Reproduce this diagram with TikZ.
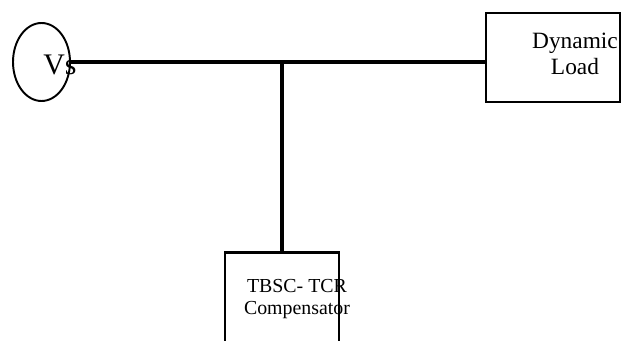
\documentclass[tikz,border=0pt]{standalone}
\usepackage{fontspec}
\setmainfont{Liberation Serif}
\usetikzlibrary{shapes.geometric}

\begin{document}
\begin{tikzpicture}[
      x=0.02cm, y=-0.02cm,
      src/.style={
        ellipse,
        draw,
        line width=1.1pt,
        minimum width=1.14cm,
        minimum height=1.56cm,
        inner sep=0pt
      },
      box/.style={
        rectangle,
        draw,
        line width=1.3pt,
        inner sep=0pt
      },
      txt/.style={align=center, inner sep=0pt},
      bus/.style={line width=2.3pt}
    ]
      \useasboundingbox (0,0) rectangle (630,341);

      \node[src] (vs) at (41.5,62) {};
      \node[box, minimum width=2.68cm, minimum height=1.78cm] (load) at (553,57.5) {};
      \node[box, minimum width=2.28cm, minimum height=1.9cm] (comp) at (282,300) {};

      \draw[bus] (vs.east) -- (vs.east -| load.west);
      \coordinate (tap) at (282,62);
      \draw[line width=2pt] (tap) -- (comp.north);

      \node[txt, anchor=base west, font=\fontsize{17}{20}\selectfont] (vslbl) at (43,75) {Vs};
      \node[txt, font=\fontsize{13.3}{14.7}\selectfont] (loadlbl) at (575,54) {Dynamic\\Load};
      \node[txt, font=\fontsize{11.3}{13}\selectfont] (complbl) at (297,299) {TBSC- TCR\\Compensator};
    \end{tikzpicture}
\end{document}
